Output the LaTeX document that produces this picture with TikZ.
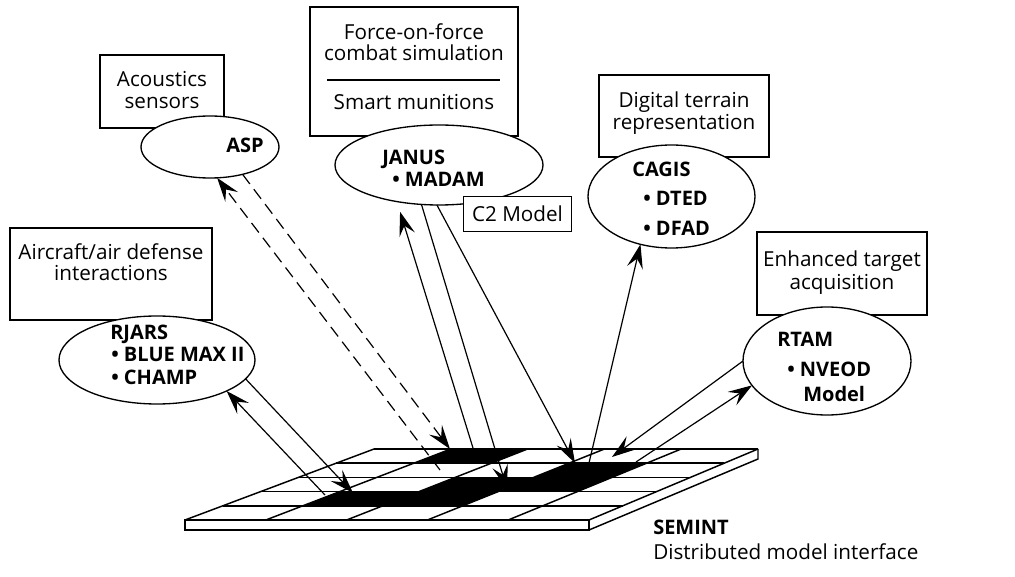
\documentclass[tikz,border=0pt]{standalone}
\usepackage{fontspec}
\setmainfont{Open Sans}
\usetikzlibrary{arrows.meta, shapes.geometric}

\tikzset{
  topicbox/.style={draw, line width=1pt, fill=white, inner sep=0pt},
  modelell/.style={draw, ellipse, line width=1pt, fill=white, inner sep=0pt, outer sep=0pt},
  desctxt/.style={font=\fontsize{15.5}{18}\selectfont, inner sep=0pt, anchor=base},
  modeltxt/.style={font=\fontsize{15}{18}\selectfont\bfseries, inner sep=0pt, anchor=base west},
  wire/.style={line width=0.9pt},
  dashwire/.style={line width=0.9pt, dash pattern=on 9pt off 5pt},
  headed/.style={-{Stealth[length=18pt,width=12pt,inset=7pt]}},
  slab/.style={line width=1.1pt},
}

\begin{document}
\begin{tikzpicture}[x=0.75pt,y=0.75pt,yscale=-1,xscale=1]
\useasboundingbox (0,0) rectangle (1015,577);

%Shape: Rectangle
\node[topicbox, minimum width=93pt, minimum height=54.75pt] (acbox) at (162,91.5) {};
\node[topicbox, minimum width=156pt, minimum height=96.75pt] (forcebox) at (414,71.5) {};
\node[topicbox, minimum width=127.5pt, minimum height=61.5pt] (terrainbox) at (684,116) {};
\node[topicbox, minimum width=127.5pt, minimum height=62.25pt] (targetbox) at (842,273.5) {};
\node[topicbox, minimum width=151.5pt, minimum height=69pt] (airbox) at (111,274) {};
%Straight Lines
\draw[line width=1pt] (327,80) -- (500,80);

%Shape: Ellipse
\node[modelell, minimum width=103.5pt, minimum height=46.5pt] (asp) at (210,147) {};
\node[modelell, minimum width=156pt, minimum height=60pt] (janus) at (439,165) {};
\node[modelell, minimum width=125.25pt, minimum height=77.25pt] (cagis) at (671.5,196.5) {};
\node[modelell, minimum width=126pt, minimum height=81pt] (rtam) at (827,361) {};
\node[modelell, minimum width=147pt, minimum height=66pt] (rjars) at (157,360) {};
% Text Node
\node[topicbox, font=\fontsize{15.5}{18}\selectfont, minimum width=81pt, minimum height=26.25pt] (c2box) at (517.5,214) {C2 Model};

%Shape: Grid (SEMINT)
\fill[white] (374,449) -- (758,449) -- (589,520) -- (185,520) -- cycle;
\fill (450.8,449) -- (527.6,449) -- (491.4,463.2) -- (413.8,463.2) -- cycle;
\fill (569,463.2) -- (646.6,463.2) -- (612,477.4) -- (533.6,477.4) -- cycle;
\fill (455.2,477.4) -- (612,477.4) -- (577.4,491.6) -- (419,491.6) -- cycle;
\fill (339.8,491.6) -- (498.2,491.6) -- (462.8,505.8) -- (302.8,505.8) -- cycle;
\draw[slab] (374,449) -- (758,449) ;
\draw[slab] (336.2,463.2) -- (724.2,463.2) ;
\draw[slab] (298.4,477.4) -- (690.4,477.4) ;
\draw[slab] (260.6,491.6) -- (656.6,491.6) ;
\draw[slab] (222.8,505.8) -- (622.8,505.8) ;
\draw[slab] (185,520) -- (589,520) ;
\draw[slab] (374,449) -- (185,520) ;
\draw[slab] (450.8,449) -- (265.8,520) ;
\draw[slab] (527.6,449) -- (346.6,520) ;
\draw[slab] (604.4,449) -- (427.4,520) ;
\draw[slab] (681.2,449) -- (508.2,520) ;
\draw[slab] (758,449) -- (589,520) ;
\draw[slab] (185,520) rectangle (589,530) ;
\draw[slab] (589,530) -- (758,459) -- (758,449) ;

\coordinate (aspret) at (440,470);
\coordinate (aspin) at (450,449);
\coordinate (janret) at (473,448);
\coordinate (janin) at (507,489);
\coordinate (madin) at (575,463);
\coordinate (cagret) at (589,463);
\coordinate (rtamin) at (612,457);
\coordinate (rtamret) at (636,462);
\coordinate (rjret) at (325,495);
\coordinate (rjin) at (353,493);

%Straight Lines
\draw[dashwire, headed] (aspret) -- (asp.-77);
\draw[dashwire, headed] (asp.-40) -- (aspin);
\draw[wire, headed, shorten >=8pt] (janret) -- (janus.-139);
\draw[wire, headed] (janus.-114) -- (janin);
\draw[wire, headed] (janus.-93) -- (madin);
\draw[wire, headed] (cagret) -- (cagis.-123);
\draw[wire, headed] (rtam.west) -- (rtamin);
\draw[wire, headed] (rtamret) -- (rtam.-162);
\draw[wire, headed] (rjret) -- (rjars.-24);
\draw[wire, headed] (rjars.-12) -- (rjin);

% Text Node
\node[desctxt] (actxt) at (162,87) {Acoustics};
\node[desctxt] (actxtb) at (162,109) {sensors};
\node[modeltxt] (asptxt) at (226,153) {ASP};
% Text Node
\node[desctxt] (forcetxt) at (414,40) {Force-on-force};
\node[desctxt] (forcetxtb) at (414,61) {combat simulation};
\node[desctxt] (smarttxt) at (414,110) {Smart munitions};
\node[modeltxt] (janustxt) at (382,165) {JANUS};
\node[modeltxt] (madamtxt) at (392,187) {\textbullet\ MADAM};
% Text Node
\node[desctxt] (terraintxt) at (684,108) {Digital terrain};
\node[desctxt] (terraintxtb) at (684,130) {representation};
\node[modeltxt] (cagistxt) at (632,177) {CAGIS};
\node[modeltxt] (dtedtxt) at (643,206) {\textbullet\ DTED};
\node[modeltxt] (dfadtxt) at (643,236) {\textbullet\ DFAD};
% Text Node
\node[desctxt] (targettxt) at (842,267) {Enhanced target};
\node[desctxt] (targettxtb) at (842,290) {acquisition};
\node[modeltxt] (rtamtxt) at (777,347) {RTAM};
\node[modeltxt] (nveodtxt) at (787,377) {\textbullet\ NVEOD};
\node[modeltxt] (nveodtxtb) at (803,402) {Model};
% Text Node
\node[desctxt] (airtxt) at (111,260) {Aircraft/air defense};
\node[desctxt] (airtxtb) at (111,281) {interactions};
\node[modeltxt] (rjarstxt) at (110,340) {RJARS};
\node[modeltxt] (bluetxt) at (111,362) {\textbullet\ BLUE MAX II};
\node[modeltxt] (champtxt) at (111,385) {\textbullet\ CHAMP};
% Text Node
\node[modeltxt] (seminttxt) at (653,534) {SEMINT};
\node[desctxt, anchor=base west] (seminttxtb) at (653,560) {Distributed model interface};

\end{tikzpicture}
\end{document}
